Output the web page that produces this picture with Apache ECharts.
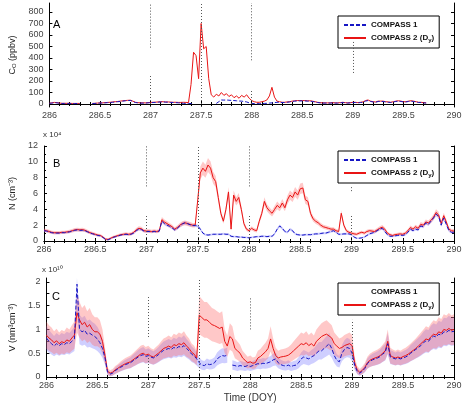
<!DOCTYPE html>
<html>
<head>
<meta charset="utf-8">
<script src="https://cdn.jsdelivr.net/npm/echarts@6/dist/echarts.min.js"></script>
<style>
  html, body { margin: 0; padding: 0; background: #fff; }
  #chart { width: 469px; height: 404px; }
</style>
</head>
<body>
<div id="chart"></div>
<script>
// time grid: DOY 286 .. 290, one sample every 0.025 day
const tStart = 286;
const tStep = 0.025;

// panel A, C_O (ppbv)
const coBlue = [
  6, 8, 12, 10, 6, 5, 5, 5, 5, 4,
  4, 4, 4, null, null, null, null, 4, 5, 7,
  8, 9, 10, 12, 13, 15, 18, 20, 22, 25,
  28, 30, 31, 22, 13, 10, 8, 8, 8, 10,
  12, 13, 14, 16, 18, 18, 16, 16, 14, 13,
  12, 10, 8, 6, 5, 5, 4, 4, null, null,
  null, null, null, null, null, null, 5, 20, 35, 34,
  35, 33, 31, 30, 28, 26, 25, 22, 18, 10,
  5, 4, 3, 3, 4, 5, 6, 8, 10, 12,
  15, 15, 13, 13, 15, 18, 22, 25, 27, 27,
  27, 27, 25, 25, 22, 18, 13, 10, 8, 8,
  8, 8, 10, 8, 8, 10, 13, 10, 8, 10,
  13, 13, 10, 13, 15, 25, 30, 22, 18, 15,
  22, 22, 22, 18, 15, 13, 18, 22, 25, 22,
  18, 18, 22, 25, 22, 18, 13, 13, 10, 8,
  null, null, null, null, null, null, null, null, null, null,
  null
];
const coRed = [
  8, 10, 14, 12, 8, 6, 6, 6, 6, 5,
  5, 5, 5, null, null, null, null, 5, 6, 8,
  10, 10, 12, 14, 15, 18, 20, 22, 25, 28,
  30, 32, 33, 25, 15, 12, 10, 10, 10, 12,
  14, 15, 16, 18, 20, 20, 18, 18, 16, 15,
  15, 14, 14, 15, 14, 12, 170, 450, 420, 220,
  700, 480, 500, 220, 80, 60, 85, 70, 100, 75,
  90, 65, 80, 55, 70, 50, 75, 60, 80, 50,
  30, 20, 15, 15, 20, 25, 35, 70, 145, 60,
  25, 20, 15, 15, 18, 20, 25, 28, 30, 30,
  30, 30, 28, 28, 25, 20, 15, 12, 10, 10,
  10, 10, 12, 10, 10, 12, 15, 12, 10, 12,
  15, 15, 12, 15, 18, 30, 35, 25, 20, 18,
  25, 25, 25, 20, 18, 15, 20, 25, 28, 25,
  20, 20, 25, 28, 25, 20, 15, 15, 12, 10,
  null, null, null, null, null, null, null, null, null, null,
  null
];

// panel B, N (x10^4 cm^-3)
const nBlue = [
  1.3, 1.25, 1.15, 1.05, 1.0, 1.0, 1.0, 1.05, 1.05, 1.1,
  1.15, 1.25, 1.35, 1.4, 1.35, 1.35, 1.3, 1.15, 1.0, 0.9,
  0.8, 0.7, 0.65, 0.45, 0.2, 0.15, 0.3, 0.45, 0.55, 0.65,
  0.75, 0.8, 0.85, 0.8, 0.85, 1.0, 1.3, 1.5, 1.45, 1.25,
  1.2, 1.2, 1.15, 1.2, 1.15, 1.25, 2.5, 2.2, 2.0, 1.85,
  1.65, 1.4, 1.6, 1.9, 2.15, 2.3, 2.2, 2.05, 1.95, 1.95,
  1.9, 1.5, 1.0, 0.8, 0.75, 0.8, 0.85, 0.85, 0.85, 0.85,
  0.9, 0.85, 0.85, 0.6, 0.55, 0.55, 0.5, 0.5, 0.45, 0.45,
  0.4, 0.45, 0.5, 0.55, 0.55, 0.6, 0.6, 0.55, 0.6, 0.6,
  0.9, 1.5, 1.9, 1.6, 1.2, 1.1, 1.5, 1.3, 0.9, 0.8,
  0.75, 0.75, 0.8, 0.8, 0.8, 0.85, 0.9, 0.9, 0.95, 1.0,
  1.0, 1.1, 1.2, 1.3, 1.1, 0.85, 0.85, 0.9, 0.9, 0.9,
  0.8, 0.5, 0.35, 0.35, 0.4, 0.5, 0.7, 0.9, 1.0, 1.1,
  1.3, 1.5, 1.6, 1.2, 0.8, 0.6, 0.6, 0.65, 0.7, 0.75,
  0.7, 0.8, 1.1, 1.5, 1.3, 1.5, 1.4, 1.9, 1.8, 2.3,
  2.1, 2.5, 2.9, 3.4, 3.1, 2.0, 2.9, 2.1, 1.3, 1.1,
  1.1
];
const nRed = [
  1.35, 1.3, 1.2, 1.1, 1.05, 1.05, 1.05, 1.1, 1.1, 1.15,
  1.2, 1.3, 1.4, 1.45, 1.4, 1.45, 1.35, 1.2, 1.05, 0.95,
  0.85, 0.75, 0.7, 0.5, 0.25, 0.2, 0.35, 0.5, 0.6, 0.7,
  0.8, 0.85, 0.9, 0.85, 0.9, 1.1, 1.4, 1.6, 1.55, 1.3,
  1.25, 1.25, 1.2, 1.25, 1.2, 1.3, 2.7, 2.4, 2.2, 2.0,
  1.8, 1.5, 1.7, 2.0, 2.2, 2.3, 2.2, 2.1, 2.0, 2.0,
  5.2, 8.6, 9.2, 8.8, 9.6, 9.2, 8.0, 7.5, 5.5, 3.5,
  2.5, 4.0, 6.2, 1.5, 5.8, 5.0, 5.5, 4.0, 2.2, 1.5,
  1.3, 1.6, 1.4, 1.3, 2.5, 3.5, 5.0, 4.2, 3.8, 3.5,
  4.0, 4.5, 4.2, 4.8, 4.2, 5.2, 5.8, 5.5, 6.2, 5.8,
  6.6, 6.7, 5.2, 5.0, 3.5, 2.8, 2.5, 2.3, 2.0, 1.8,
  1.7, 1.6, 1.5, 1.5, 1.3, 1.2, 3.5, 2.0, 1.3, 1.1,
  1.0, 0.9, 0.85, 1.0, 1.1, 1.0, 1.2, 1.3, 1.25, 1.2,
  1.4, 1.6, 1.75, 1.5, 1.0, 0.8, 0.7, 0.8, 0.85, 0.9,
  0.85, 1.0, 1.3, 1.7, 1.5, 1.8, 1.6, 2.1, 2.0, 2.4,
  2.3, 2.6, 3.0, 3.6, 3.3, 2.2, 3.2, 2.4, 1.5, 1.3,
  1.25
];

// panel C, V (x10^10 nm^3 cm^-3)
const vBlue = [
  0.82, 0.75, 0.7, 0.65, 0.7, 0.66, 0.7, 0.68, 0.72, 0.7,
  0.75, 0.8, 1.95, 1.0, 0.95, 0.98, 0.9, 0.92, 0.88, 0.85,
  0.8, 0.72, 0.6, 0.4, 0.1, 0.06, 0.08, 0.13, 0.17, 0.2,
  0.23, 0.26, 0.28, 0.3, 0.34, 0.38, 0.42, 0.45, 0.47, 0.43,
  0.45, 0.42, 0.4, 0.43, 0.47, 0.52, 0.56, 0.58, 0.6, 0.58,
  0.62, 0.6, 0.64, 0.62, 0.66, 0.6, 0.55, 0.48, 0.44, 0.38,
  0.3, 0.25, 0.24, 0.28, 0.26, 0.27, 0.3, 0.38, 0.42, 0.45,
  0.44, 0.46, null, 0.25, 0.24, 0.22, 0.24, 0.23, 0.22, 0.24,
  0.22, 0.24, 0.26, 0.28, 0.27, 0.29, 0.28, 0.3, 0.32, 0.36,
  0.38, 0.3, 0.26, 0.24, 0.23, 0.25, 0.22, 0.24, 0.25, 0.3,
  0.38, 0.42, 0.4, 0.38, 0.42, 0.45, 0.5, 0.55, 0.55, 0.6,
  0.65, 0.7, 0.6, 0.45, 0.35, 0.32, 0.5, 0.58, 0.62, 0.6,
  0.5, 0.25, 0.12, 0.08, 0.12, 0.18, 0.28, 0.33, 0.36, 0.38,
  0.4, 0.43, 0.48, 0.52, 0.7, 0.42, 0.4, 0.38, 0.4, 0.38,
  0.4, 0.42, 0.45, 0.5, 0.54, 0.58, 0.62, 0.66, 0.72, 0.76,
  0.75, 0.82, 0.86, 0.84, 0.9, 0.88, 0.95, 0.94, 0.98, 0.95,
  0.96
];
const vRed = [
  0.88, 0.82, 0.78, 0.72, 0.76, 0.7, 0.74, 0.72, 0.78, 0.75,
  0.82, 0.88, 1.35, 1.2, 1.1, 1.15, 1.05, 1.1, 1.0, 0.95,
  0.95, 0.9, 0.75, 0.45, 0.12, 0.08, 0.1, 0.15, 0.18, 0.22,
  0.25, 0.28, 0.3, 0.32, 0.36, 0.4, 0.44, 0.48, 0.5, 0.46,
  0.48, 0.44, 0.42, 0.46, 0.5, 0.55, 0.6, 0.62, 0.65, 0.62,
  0.68, 0.66, 0.7, 0.68, 0.72, 0.65, 0.6, 0.52, 0.48, 0.4,
  1.3, 1.25, 1.2, 1.2, 1.15, 1.1, 1.08, 1.05, 1.02, 1.05,
  0.75, 0.65, 0.85, 0.8, 0.6, 0.55, 0.5, 0.4, 0.35, 0.3,
  0.32, 0.29, 0.3, 0.4, 0.43, 0.48, 0.53, 0.6, 0.8, 0.6,
  0.45, 0.4, 0.42, 0.43, 0.44, 0.46, 0.5, 0.55, 0.6, 0.65,
  0.7, 0.68, 0.72, 0.66, 0.7, 0.65, 0.75, 0.8, 0.85, 0.88,
  0.9, 0.86, 0.82, 0.7, 0.65, 0.6, 0.62, 0.66, 0.68, 0.7,
  0.66, 0.3, 0.15, 0.1, 0.14, 0.2, 0.3, 0.35, 0.38, 0.4,
  0.42, 0.45, 0.5, 0.55, 0.75, 0.45, 0.42, 0.4, 0.42, 0.4,
  0.43, 0.45, 0.48, 0.52, 0.56, 0.6, 0.65, 0.7, 0.75, 0.8,
  0.78, 0.85, 0.9, 0.88, 0.95, 0.92, 1.0, 0.98, 1.02, 0.98,
  1.0
];

// shaded uncertainty: half width = rel * value + abs
const nBandBlue = { rel: 0.06, abs: 0.08 };
const nBandRed = { rel: 0.08, abs: 0.12 };
const vBandBlue = { rel: 0.28, abs: 0.03 };
const vBandRed = { rel: 0.28, abs: 0.04 };

// dotted marker lines: [DOY, from, to]
const coGuides = [[287, 490, 878], [287, -26, 245], [287.5, -26, 878], [288, 380, 878], [288, -26, 120], [289, 270, 545]];
const nGuides = [[287, 6.9, 12], [287, 0, 3.4], [287.5, 0, 12], [288, 6.9, 12], [288, 0, 3.4], [289, 6.3, 6.9], [289, 0, 3.4]];
const vGuides = [[287, 0.84, 1.68], [287, 0, 0.4], [287.5, 0, 2.08], [288, 1.0, 1.68], [289, 0, 1.2]];

const coTicks = [0, 100, 200, 300, 400, 500, 600, 700, 800];
const vTicks = [0, 0.5, 1, 1.5, 2];
const vMinorTicks = [0, 0.25, 0.5, 0.75, 1, 1.25, 1.5, 1.75, 2];

const NAME1 = 'COMPASS 1';
const NAME2 = 'COMPASS 2 (Dy)';
const RED = '#e81414';
const BLUE = '#1616c4';
const FONT = '"Liberation Sans", Arial, sans-serif';

const times = coRed.map((_, i) => +(tStart + i * tStep).toFixed(3));
const timed = (vals) => vals.map((v, i) => [times[i], v]);
const half = (v, b) => b.rel * v + b.abs;

// shaded band drawn as polygons through the axes of panel k
function bandSeries(k, vals, b, fill, lo, hi) {
  return {
    type: 'custom', xAxisIndex: 2 * k, yAxisIndex: 2 * k, silent: true, z: 1, clip: true,
    data: [[times[0], vals[0]]],
    renderItem: (params, api) => {
      const children = [];
      let upper = [], lower = [];
      const flush = () => {
        if (upper.length > 1) {
          children.push({ type: 'polygon', shape: { points: upper.concat(lower.reverse()) }, style: { fill } });
        }
        upper = []; lower = [];
      };
      vals.forEach((v, i) => {
        if (v == null) { flush(); return; }
        const h = half(v, b);
        upper.push(api.coord([times[i], Math.min(hi, v + h)]));
        lower.push(api.coord([times[i], Math.max(lo, v - h)]));
      });
      flush();
      return { type: 'group', children };
    }
  };
}

const panels = [
  { top: 3, height: 104, min: -26, max: 878, blue: coBlue, red: coRed, guides: coGuides,
    name: 'C{s|O} (ppbv)', labels: coTicks, ticks: coTicks, topLine: false },
  { top: 146, height: 95, min: 0, max: 12, interval: 2, blue: nBlue, red: nRed, guides: nGuides,
    bandBlue: nBandBlue, bandRed: nBandRed, name: 'N (cm⁻³)', topLine: true },
  { top: 278, height: 99, min: 0, max: 2.08, blue: vBlue, red: vRed, guides: vGuides,
    bandBlue: vBandBlue, bandRed: vBandRed, name: 'V (nm³cm⁻³)', labels: vTicks, ticks: vMinorTicks, topLine: false }
];

const grid = [], xAxis = [], yAxis = [], series = [], legend = [];
const tickStyle = { color: '#000', width: 1 };

panels.forEach((p, k) => {
  grid.push({ left: 42, width: 412, top: p.top, height: p.height });

  const xBase = {
    type: 'value', gridIndex: k, min: 286, max: 290, interval: 0.5,
    axisLine: { lineStyle: tickStyle },
    axisTick: { inside: true, length: 3, lineStyle: tickStyle },
    minorTick: { show: true, splitNumber: 5, length: 2, lineStyle: tickStyle },
    splitLine: { show: false }, minorSplitLine: { show: false }
  };
  xAxis.push(Object.assign({}, xBase, {
    position: 'bottom',
    axisLabel: { fontSize: 9, color: '#444', margin: 4, fontFamily: FONT },
    name: k === 2 ? 'Time (DOY)' : '', nameLocation: 'middle', nameGap: 16,
    nameTextStyle: { fontSize: 10, color: '#333', fontFamily: FONT }
  }));
  xAxis.push(Object.assign({}, xBase, {
    position: 'top', axisLabel: { show: false },
    axisLine: { show: p.topLine, lineStyle: tickStyle }
  }));

  const yBase = {
    type: 'value', gridIndex: k, min: p.min, max: p.max,
    axisLine: { show: true, lineStyle: tickStyle },
    axisTick: { inside: true, length: 3, lineStyle: tickStyle },
    splitLine: { show: false }
  };
  if (p.interval) {
    yBase.interval = p.interval;
    yBase.minorTick = { show: true, splitNumber: 2, length: 2, lineStyle: tickStyle };
  } else {
    yBase.axisTick = Object.assign({}, yBase.axisTick, { customValues: p.ticks });
  }
  const leftLabel = { fontSize: 9, color: '#444', margin: 6, fontFamily: FONT };
  if (p.labels) leftLabel.customValues = p.labels;
  yAxis.push(Object.assign({}, yBase, {
    position: 'left', axisLabel: leftLabel,
    name: p.name, nameLocation: 'middle', nameGap: 27,
    nameTextStyle: { fontSize: 9, color: '#222', fontFamily: FONT,
      rich: { s: { fontSize: 6, fontFamily: FONT, color: '#222', padding: [4, 0, 0, 0] } } }
  }));
  yAxis.push(Object.assign({}, yBase, { position: 'right', axisLabel: { show: false } }));

  if (p.bandBlue) {
    series.push(bandSeries(k, p.blue, p.bandBlue, 'rgba(110,110,255,0.33)', p.min, p.max));
    series.push(bandSeries(k, p.red, p.bandRed, 'rgba(255,110,110,0.38)', p.min, p.max));
  }

  const xi = 2 * k, yi = 2 * k;
  series.push({
    type: 'line', name: NAME2, xAxisIndex: xi, yAxisIndex: yi, data: timed(p.red),
    symbol: 'none', connectNulls: false, lineStyle: { color: RED, width: 1 }, itemStyle: { color: RED }, z: 3,
    markLine: {
      silent: true, symbol: ['none', 'none'], label: { show: false },
      lineStyle: { type: [1, 2], color: '#555', width: 1 },
      data: p.guides.map(g => [{ coord: [g[0], g[1]] }, { coord: [g[0], g[2]] }])
    }
  });
  series.push({
    type: 'line', name: NAME1, xAxisIndex: xi, yAxisIndex: yi, data: timed(p.blue),
    symbol: 'none', connectNulls: false, lineStyle: { color: BLUE, width: 1, type: [4, 2] },
    itemStyle: { color: BLUE }, z: 4
  });

  const firstItem = k === 2 ? { name: NAME1, lineStyle: { opacity: 0 } } : { name: NAME1 };
  legend.push({
    data: [firstItem, { name: NAME2 }],
    orient: 'vertical', left: 338, top: p.top + (k === 0 ? 13 : 5),
    itemWidth: 22, itemHeight: 8, itemGap: 5, padding: [5, 5, 5, 5],
    itemStyle: { opacity: 0 },
    borderColor: '#000', borderWidth: 1, borderRadius: 0, backgroundColor: '#fff',
    selectedMode: false,
    formatter: (n) => n === NAME2 ? 'COMPASS 2 (D{s|y})' : n,
    textStyle: { fontSize: 8, fontWeight: 'bold', color: '#111', fontFamily: FONT,
      rich: { s: { fontSize: 6, fontWeight: 'bold', fontFamily: FONT, color: '#111', padding: [4, 0, 0, 0] } } }
  });
});

const chart = echarts.init(document.getElementById('chart'));
chart.setOption({
  animation: false,
  grid, xAxis, yAxis, series, legend,
  graphic: [
    { type: 'text', left: 53, top: 19, style: { text: 'A', font: '11px ' + FONT, fill: '#000' } },
    { type: 'text', left: 53, top: 158, style: { text: 'B', font: '11px ' + FONT, fill: '#000' } },
    { type: 'text', left: 52, top: 291, style: { text: 'C', font: '11px ' + FONT, fill: '#000' } },
    { type: 'text', left: 43, top: 131, style: { text: 'x 10⁴', font: '8px ' + FONT, fill: '#333' } },
    { type: 'text', left: 42, top: 266, style: { text: 'x 10¹⁰', font: '8px ' + FONT, fill: '#333' } }
  ]
});
</script>
</body>
</html>
